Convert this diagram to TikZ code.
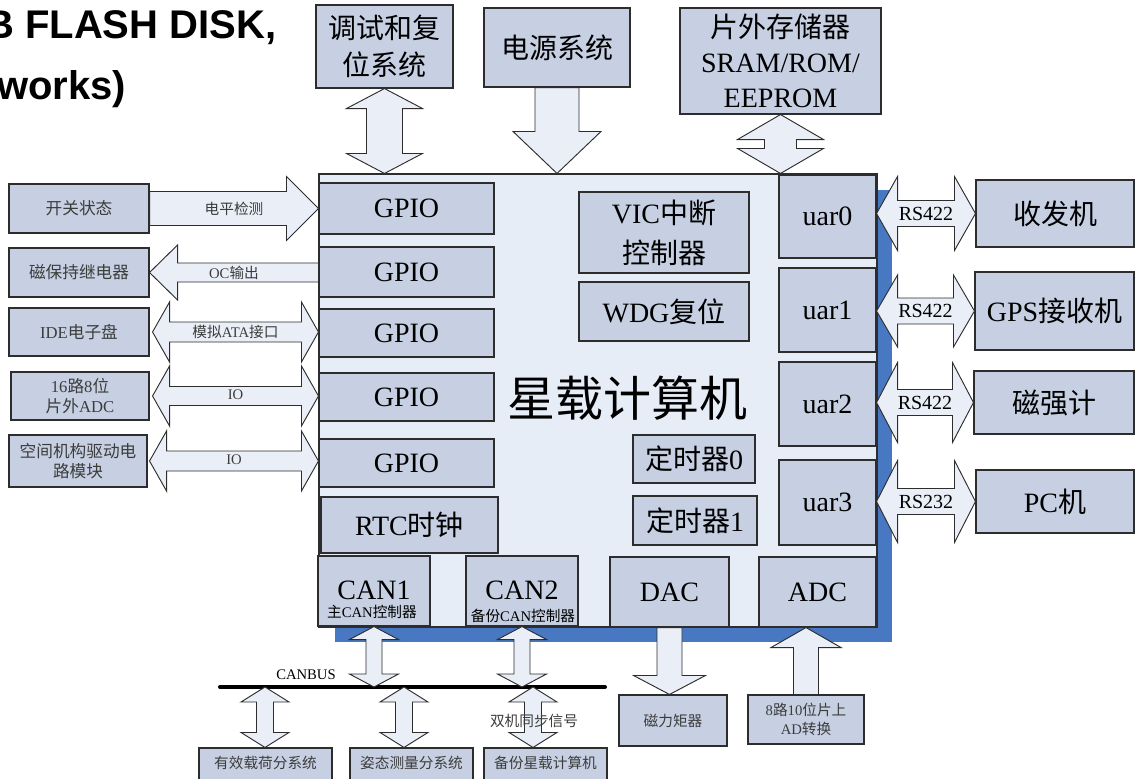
\documentclass[tikz,border=0pt]{standalone}
\usepackage{fontspec}
\setmainfont{Liberation Serif}
\newfontfamily\zhfont{Noto Sans CJK SC}
\newfontfamily\headfont{Liberation Sans}
\usetikzlibrary{calc}

\newcommand\zh[1]{{\zhfont #1}}
\newcommand\pxu{0.75pt}

\definecolor{boxfill}{RGB}{198,208,226}
\definecolor{mainfill}{RGB}{231,237,247}
\definecolor{arrowfill}{RGB}{233,238,247}
\definecolor{shadowblue}{RGB}{71,120,193}
\definecolor{edge}{RGB}{45,45,45}
\definecolor{softtext}{RGB}{60,60,60}

\tikzset{
  box/.style={draw=edge, fill=boxfill, line width=0.8pt, inner sep=0pt, align=center},
  barrow/.style={draw=edge, fill=arrowfill, line width=0.7pt, line join=miter},
  bigtxt/.style={font=\fontsize{21}{26}\selectfont},
  midtxt/.style={font=\fontsize{12.5}{15}\selectfont, text=softtext},
  smalltxt/.style={font=\fontsize{11}{14}\selectfont, text=softtext},
  rstxt/.style={font=\fontsize{15}{15}\selectfont},
  headtxt/.style={anchor=base west, inner sep=0pt, font=\headfont\bfseries\fontsize{30}{30}\selectfont},
}

% box by corners: name, x1, y1, x2, y2, style, text
\newcommand\bx[7]{\node[box,#6,minimum width={(#4-#2)*\pxu},minimum height={(#5-#3)*\pxu}] (#1) at ({(#2+#4)/2},{(#3+#5)/2}) {#7};}

% single block arrow: tail, tip, shaft half width, head half width, head length
\newcommand\sarrow[5]{%
  \coordinate (arB) at ($(#2)!{#5*\pxu}!(#1)$);
  \draw[barrow] ($(#1)!{#3*\pxu}!90:(#2)$) -- ($(arB)!{#3*\pxu}!90:(#2)$)
    -- ($(arB)!{#4*\pxu}!90:(#2)$) -- (#2) -- ($(arB)!{#4*\pxu}!-90:(#2)$)
    -- ($(arB)!{#3*\pxu}!-90:(#2)$) -- ($(#1)!{#3*\pxu}!-90:(#2)$) -- cycle;}

% double block arrow: tip, tip, shaft half width, head half width, head length
\newcommand\darrow[5]{%
  \coordinate (arB1) at ($(#1)!{#5*\pxu}!(#2)$);
  \coordinate (arB2) at ($(#2)!{#5*\pxu}!(#1)$);
  \draw[barrow] (#1) -- ($(arB1)!{#4*\pxu}!90:(#2)$) -- ($(arB1)!{#3*\pxu}!90:(#2)$)
    -- ($(arB2)!{#3*\pxu}!90:(#2)$) -- ($(arB2)!{#4*\pxu}!90:(#2)$) -- (#2)
    -- ($(arB2)!{#4*\pxu}!-90:(#2)$) -- ($(arB2)!{#3*\pxu}!-90:(#2)$)
    -- ($(arB1)!{#3*\pxu}!-90:(#2)$) -- ($(arB1)!{#4*\pxu}!-90:(#2)$) -- cycle;}

\begin{document}
\begin{tikzpicture}[x=0.75pt,y=-0.75pt]
\useasboundingbox (0,0) rectangle (1138,778);

% heading fragment
\node[headtxt] (ttl1) at (-15,38) {B FLASH DISK,};
\node[headtxt] (ttl2) at (-3,99) {works)};

% on-board computer body with its shadow
\fill[shadowblue] (335,190) rectangle (892,642);
\bx{main}{319}{174}{877}{627}{fill=mainfill}{}
\node[font=\fontsize{36}{36}\selectfont] (mainlbl) at (627,398) {\zh{星载计算机}};

% internal blocks
\bx{gpio1}{319}{183}{494}{234}{bigtxt}{GPIO}
\bx{gpio2}{319}{247}{494}{297}{bigtxt}{GPIO}
\bx{gpio3}{319}{309}{494}{357}{bigtxt}{GPIO}
\bx{gpio4}{319}{373}{494}{421}{bigtxt}{GPIO}
\bx{gpio5}{319}{439}{494}{487}{bigtxt}{GPIO}
\bx{rtc}{321}{497}{498}{553}{bigtxt}{RTC\zh{时钟}}
\bx{vic}{579}{192}{749}{273}{font=\fontsize{21}{30}\selectfont}{VIC\zh{中断}\\\zh{控制器}}
\bx{wdg}{579}{282}{749}{341}{bigtxt}{WDG\zh{复位}}
\bx{tm0}{633}{435}{755}{483}{bigtxt}{\zh{定时器}0}
\bx{tm1}{633}{496}{757}{545}{bigtxt}{\zh{定时器}1}
\bx{uar0}{779}{175}{876}{258}{bigtxt}{uar0}
\bx{uar1}{779}{268}{876}{352}{bigtxt}{uar1}
\bx{uar2}{779}{362}{876}{446}{bigtxt}{uar2}
\bx{uar3}{779}{460}{876}{545}{bigtxt}{uar3}
\bx{can1}{318}{556}{430}{626}{}{}
\bx{can2}{466}{556}{578}{626}{}{}
\node[bigtxt, inner sep=0pt] (can1a) at (374,590) {CAN1};
\node[font=\fontsize{11}{11}\selectfont, inner sep=0pt] (can1b) at (372,612) {\zh{主}CAN\zh{控制器}};
\node[bigtxt, inner sep=0pt] (can2a) at (522,590) {CAN2};
\node[font=\fontsize{11}{11}\selectfont, inner sep=0pt] (can2b) at (523,616) {\zh{备份}CAN\zh{控制器}};
\bx{dac}{610}{557}{729}{627}{bigtxt}{DAC}
\bx{adc}{759}{557}{876}{627}{bigtxt}{ADC}

% top peripherals
\bx{ts}{316}{5}{453}{88}{font=\fontsize{21}{28}\selectfont}{\zh{调试和复}\\\zh{位系统}}
\bx{dy}{484}{8}{630}{87}{bigtxt}{\zh{电源系统}}
\bx{mem}{680}{8}{881}{114}{font=\fontsize{21}{26}\selectfont}{\zh{片外存储器}\\SRAM/ROM/\\EEPROM}

% left peripherals
\bx{kg}{9}{184}{149}{233}{midtxt}{\zh{开关状态}}
\bx{cbj}{9}{248}{149}{297}{midtxt}{\zh{磁保持继电器}}
\bx{ide}{9}{308}{149}{356}{midtxt}{IDE\zh{电子盘}}
\bx{adc16}{11}{372}{149}{420}{midtxt}{16\zh{路}8\zh{位}\\\zh{片外}ADC}
\bx{kj}{9}{435}{147}{487}{midtxt}{\zh{空间机构驱动电}\\\zh{路模块}}

% right peripherals
\bx{sf}{976}{180}{1134}{247}{bigtxt}{\zh{收发机}}
\bx{gps}{975}{272}{1134}{350}{bigtxt}{GPS\zh{接收机}}
\bx{cqj}{974}{371}{1134}{434}{bigtxt}{\zh{磁强计}}
\bx{pc}{976}{470}{1134}{533}{bigtxt}{PC\zh{机}}

% bottom peripherals
\bx{clj}{619}{695}{727}{746}{smalltxt}{\zh{磁力矩器}}
\bx{ad8}{748}{695}{864}{744}{smalltxt}{8\zh{路}10\zh{位片上}\\AD\zh{转换}}
\bx{yx}{199}{748}{332}{800}{}{}
\bx{zt}{350}{748}{473}{800}{}{}
\bx{bf}{484}{748}{607}{800}{}{}
\node[smalltxt] (yxl) at (265.5,763) {\zh{有效载荷分系统}};
\node[smalltxt] (ztl) at (411.5,763) {\zh{姿态测量分系统}};
\node[smalltxt] (bfl) at (545.5,763) {\zh{备份星载计算机}};

% CAN bus
\coordinate (busL) at (220,687);
\coordinate (busR) at (605,687);
\draw[line width=3pt, line cap=round] (busL) -- (busR);
\node[smalltxt, text=black] (busl) at (306,675) {CANBUS};

% left links
\coordinate (k1) at (kg.east -| gpio1.west);
\sarrow{kg.east}{k1}{17}{32}{32}
\node[smalltxt] (l1) at ($(kg.east)!0.5!(k1)$) {\zh{电平检测}};
\coordinate (k2) at (cbj.east -| gpio2.west);
\sarrow{k2}{cbj.east}{9.5}{27.5}{28}
\node[smalltxt] (l2) at ($(cbj.east)!0.5!(k2)$) {OC\zh{输出}};
\coordinate (k3a) at ($(ide.east)+(3,0)$);
\coordinate (k3) at (ide.east -| gpio3.west);
\darrow{k3a}{k3}{10}{30}{17}
\node[smalltxt] (l3) at ($(k3a)!0.5!(k3)$) {\zh{模拟}ATA\zh{接口}};
\coordinate (k4a) at ($(adc16.east)+(3,0)$);
\coordinate (k4) at (adc16.east -| gpio4.west);
\darrow{k4a}{k4}{9.5}{30}{17}
\node[smalltxt] (l4) at ($(k4a)!0.5!(k4)+(0,-1)$) {IO};
\coordinate (k5a) at ($(kj.east)+(2,0)$);
\coordinate (k5) at (kj.east -| gpio5.west);
\darrow{k5a}{k5}{10}{30}{17}
\node[smalltxt] (l5) at ($(k5a)!0.5!(k5)+(0,-1)$) {IO};

% serial links
\coordinate (r1) at (uar0.east |- sf.west);
\darrow{r1}{sf.west}{13}{37}{21}
\node[rstxt] (rl1) at ($(r1)!0.5!(sf.west)$) {RS422};
\coordinate (r2) at (uar1.east |- gps.west);
\darrow{r2}{gps.west}{13}{36}{21}
\node[rstxt] (rl2) at ($(r2)!0.5!(gps.west)$) {RS422};
\coordinate (r3) at (uar2.east |- cqj.west);
\darrow{r3}{cqj.west}{13}{40}{21}
\node[rstxt] (rl3) at ($(r3)!0.5!(cqj.west)$) {RS422};
\coordinate (r4) at (uar3.east |- pc.west);
\darrow{r4}{pc.west}{13}{41}{21}
\node[rstxt] (rl4) at ($(r4)!0.5!(pc.west)$) {RS232};

% top links
\coordinate (t1) at (ts.south |- main.north);
\darrow{ts.south}{t1}{18}{38}{20}
\coordinate (t2) at (dy.south |- main.north);
\sarrow{dy.south}{t2}{22}{44}{42}
\coordinate (t3) at (mem.south |- main.north);
\darrow{mem.south}{t3}{16}{43}{25}

% bus links
\coordinate (c1) at (can1.south |- busL);
\darrow{can1.south}{c1}{8}{24.5}{13}
\coordinate (c2) at (can2.south |- busL);
\darrow{can2.south}{c2}{8}{24.5}{13}
\coordinate (b1) at (265,687);
\coordinate (b1e) at (b1 |- yx.north);
\darrow{b1}{b1e}{8.5}{24}{15}
\coordinate (b2) at (404,687);
\coordinate (b2e) at (b2 |- zt.north);
\darrow{b2}{b2e}{8.5}{24}{15}
\coordinate (b3) at (533,687);
\coordinate (b3e) at (b3 |- bf.north);
\darrow{b3}{b3e}{8.5}{24}{15}
\node[smalltxt] (sync) at (534,721) {\zh{双机同步信号}};

% converter links
\coordinate (d1) at (dac.south |- clj.north);
\sarrow{dac.south}{d1}{12.5}{36}{19}
\coordinate (a1) at (ad8.north |- adc.south);
\sarrow{ad8.north}{a1}{12.5}{35}{20}
\end{tikzpicture}
\end{document}
